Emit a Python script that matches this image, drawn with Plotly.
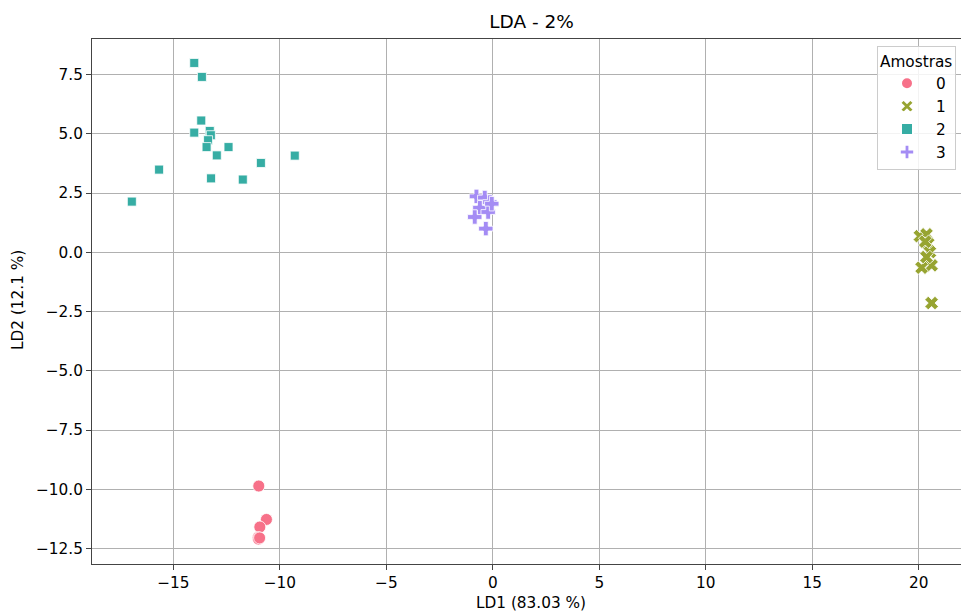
import plotly.graph_objects as go

# Group 0 (circles)
g0_x = [-10.99, -10.63, -10.94, -11.02, -11.00, -10.95]
g0_y = [-9.86, -11.27, -11.59, -12.04, -12.10, -12.05]
# Group 1 (x)
g1_x = [20.05, 20.36, 20.44, 20.52, 20.60, 20.13, 20.36, 20.30, 20.60]
g1_y = [0.68, 0.76, 0.37, 0.01, -0.55, -0.65, -0.20, 0.45, -2.14]
# Group 2 (squares)
g2_x = [-14.02, -13.66, -13.69, -14.02, -13.29, -13.24, -13.37, -13.44, -12.41, -12.96,
        -10.89, -9.30, -15.67, -13.23, -11.74, -16.95]
g2_y = [7.99, 7.40, 5.56, 5.05, 5.12, 4.94, 4.73, 4.44, 4.44, 4.09,
        3.77, 4.08, 3.49, 3.12, 3.07, 2.14]
# Group 3 (plus)
g3_x = [-0.77, -0.38, -0.14, -0.61, -0.22, -0.85, -0.33, -0.05]
g3_y = [2.36, 2.31, 2.12, 1.88, 1.70, 1.49, 1.00, 2.05]

labels = ["0", "1", "2", "3"]
colors = ["#f77189", "#97a431", "#36ada4", "#a48cf4"]
symbols = ["circle", "x", "square", "cross"]
sizes = [12, 12, 9, 12]
xs = [g0_x, g1_x, g2_x, g3_x]
ys = [g0_y, g1_y, g2_y, g3_y]

x_ticks = [-15, -10, -5, 0, 5, 10, 15, 20]
y_ticks = [-12.5, -10.0, -7.5, -5.0, -2.5, 0.0, 2.5, 5.0, 7.5]

fig = go.Figure()
for lab, c, s, sz, x, y in zip(labels, colors, symbols, sizes, xs, ys):
    fig.add_trace(go.Scatter(
        x=x, y=y, mode="markers", name=lab,
        marker=dict(color=c, symbol=s, size=sz, line=dict(color="white", width=0.8)),
    ))

font = "DejaVu Sans, sans-serif"
W, H = 961, 611
L, T, B = 92, 39, 47
fig.update_layout(
    width=W, height=H,
    margin=dict(l=L, r=0, t=T, b=B, autoexpand=False),
    paper_bgcolor="white", plot_bgcolor="white",
    font=dict(family=font, size=15.3, color="black"),
    title=dict(text="LDA - 2%", x=531.5 / W, xref="container", xanchor="center",
               y=1 - 22 / H, yref="container", yanchor="middle",
               font=dict(size=18.5, color="black")),
    xaxis=dict(range=[-18.82, 21.98], tickvals=x_ticks,
               ticktext=[("−" + str(-v)) if v < 0 else str(v) for v in x_ticks],
               showgrid=True, gridcolor="#b0b0b0", gridwidth=1, zeroline=False,
               showline=True, linecolor="#444444", linewidth=1, mirror=True,
               ticks="outside", ticklen=5, tickcolor="#444444", automargin=False,
               tickfont=dict(size=15.3)),
    yaxis=dict(range=[-13.15, 9.0], tickvals=y_ticks,
               ticktext=[("−" + f"{-v:.1f}") if v < 0 else f"{v:.1f}" for v in y_ticks],
               showgrid=True, gridcolor="#b0b0b0", gridwidth=1, zeroline=False,
               showline=True, linecolor="#444444", linewidth=1, mirror=False,
               ticks="outside", ticklen=5, tickcolor="#444444", automargin=False,
               tickfont=dict(size=15.3)),
    legend=dict(x=(877 - L) / (W - L), y=1 - (46 - T) / (H - T - B), xanchor="left", yanchor="top",
                bgcolor="rgba(255,255,255,0.85)", bordercolor="#cccccc", borderwidth=1,
                title=dict(text="Amostras", side="top", font=dict(size=15.3)),
                font=dict(size=15.3), itemsizing="constant", itemwidth=48, tracegroupgap=0),
    annotations=[
        dict(text="LD1 (83.03 %)", xref="paper", yref="paper",
             x=(531 - L) / (W - L), y=-(603 - (H - B)) / (H - T - B),
             xanchor="center", yanchor="middle", showarrow=False, font=dict(size=15.3)),
        dict(text="LD2 (12.1 %)", xref="paper", yref="paper",
             x=(18 - L) / (W - L), y=(H - B - 300) / (H - T - B),
             xanchor="center", yanchor="middle", textangle=-90, showarrow=False,
             font=dict(size=15.3)),
    ],
)

fig.write_html("out.html", config={"displayModeBar": False},
               post_script="document.body.style.margin='0';document.body.style.overflow='hidden';")
